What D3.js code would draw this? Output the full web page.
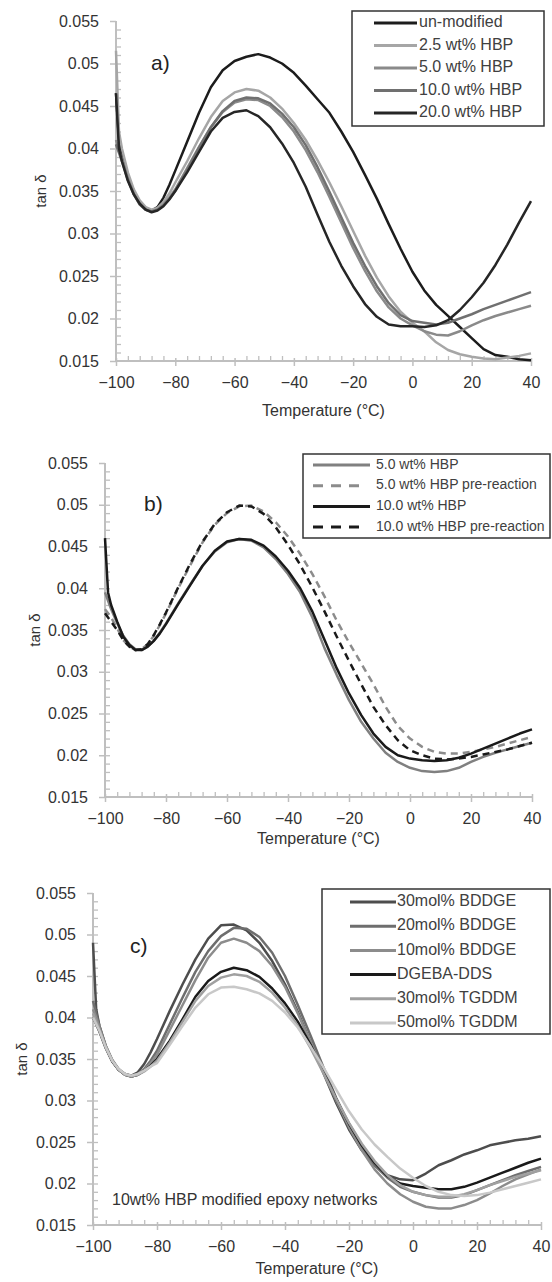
<!DOCTYPE html>
<html><head><meta charset="utf-8">
<script src="https://cdn.jsdelivr.net/npm/d3@7"></script>
<style>
body{margin:0;background:#fff}
svg{display:block}
text{font-family:"Liberation Sans",Arial,sans-serif}
</style>
</head><body>
<svg id="chart" width="552" height="1282"></svg>
<script>
// ---------- DATA ----------
const temps = [-100,-99,-98,-96,-94,-92,-90,-88,-86,-84,-82,-80,-76,-72,-68,-64,-60,-56,-52,-48,-44,-40,-36,-32,-28,-24,-20,-16,-12,-8,-4,0,4,8,12,16,20,24,28,32,36,40];
const xTicks = [-100,-80,-60,-40,-20,0,20,40];
const yTicks = [0.015,0.02,0.025,0.03,0.035,0.04,0.045,0.05,0.055];
const yTickLabels = ["0.015","0.02","0.025","0.03","0.035","0.04","0.045","0.05","0.055"];

// panel a
const aNames = ["un-modified","2.5 wt% HBP","5.0 wt% HBP","10.0 wt% HBP","20.0 wt% HBP"];
const aUnmod = [0.0465,0.0410,0.0392,0.0368,0.0350,0.0337,0.0330,0.0327,0.0331,0.0342,0.0357,0.0374,0.0408,0.0442,0.0472,0.0492,0.0503,0.0508,0.0511,0.0507,0.0500,0.0489,0.0474,0.0458,0.0442,0.0420,0.0396,0.0369,0.0341,0.0311,0.0282,0.0255,0.0233,0.0216,0.0203,0.0190,0.0177,0.0164,0.0157,0.0155,0.0152,0.0151];
const a25 = [0.0515,0.0420,0.0400,0.0372,0.0352,0.0339,0.0331,0.0328,0.0330,0.0337,0.0347,0.0360,0.0385,0.0412,0.0437,0.0456,0.0466,0.0470,0.0468,0.0460,0.0447,0.0430,0.0410,0.0386,0.0360,0.0332,0.0303,0.0274,0.0248,0.0226,0.0208,0.0195,0.0185,0.0172,0.0163,0.0158,0.0155,0.0153,0.0152,0.0154,0.0156,0.0159];
const a5 = [0.0410,0.0398,0.0388,0.0365,0.0347,0.0335,0.0328,0.0326,0.0328,0.0334,0.0342,0.0352,0.0377,0.0402,0.0425,0.0443,0.0454,0.0458,0.0457,0.0450,0.0437,0.0420,0.0398,0.0372,0.0343,0.0313,0.0283,0.0256,0.0232,0.0213,0.0200,0.0192,0.0185,0.0181,0.0180,0.0185,0.0192,0.0198,0.0203,0.0207,0.0211,0.0215];
const a10 = [0.0405,0.0395,0.0385,0.0363,0.0346,0.0334,0.0328,0.0326,0.0328,0.0333,0.0341,0.0350,0.0375,0.0401,0.0425,0.0444,0.0456,0.0460,0.0459,0.0453,0.0441,0.0425,0.0404,0.0378,0.0349,0.0319,0.0289,0.0262,0.0238,0.0218,0.0204,0.0197,0.0195,0.0193,0.0195,0.0200,0.0205,0.0211,0.0216,0.0221,0.0226,0.0231];
const a20 = [0.0465,0.0400,0.0385,0.0362,0.0346,0.0335,0.0328,0.0325,0.0327,0.0332,0.0340,0.0350,0.0372,0.0396,0.0420,0.0436,0.0443,0.0445,0.0438,0.0425,0.0406,0.0383,0.0355,0.0322,0.0290,0.0262,0.0238,0.0217,0.0202,0.0193,0.0191,0.0191,0.0190,0.0192,0.0198,0.0210,0.0225,0.0242,0.0263,0.0287,0.0313,0.0338];

// panel b
const bNames = ["5.0 wt% HBP","5.0 wt% HBP pre-reaction","10.0 wt% HBP","10.0 wt% HBP pre-reaction"];
const b5 = [0.0395,0.0385,0.0375,0.0358,0.0343,0.0333,0.0327,0.0326,0.0330,0.0337,0.0347,0.0358,0.0382,0.0405,0.0427,0.0444,0.0455,0.0459,0.0457,0.0449,0.0435,0.0417,0.0395,0.0365,0.0328,0.0296,0.0266,0.0240,0.0220,0.0203,0.0192,0.0185,0.0181,0.0180,0.0181,0.0185,0.0192,0.0198,0.0203,0.0207,0.0211,0.0215];
const b5pre = [0.0375,0.0370,0.0365,0.0352,0.0338,0.0330,0.0326,0.0327,0.0333,0.0343,0.0356,0.0370,0.0400,0.0428,0.0455,0.0476,0.0490,0.0498,0.0499,0.0492,0.0479,0.0462,0.0441,0.0417,0.0390,0.0361,0.0335,0.0310,0.0285,0.0258,0.0235,0.0220,0.0210,0.0204,0.0202,0.0202,0.0204,0.0207,0.0210,0.0214,0.0218,0.0222];
const b10 = [0.0460,0.0395,0.0380,0.0360,0.0342,0.0332,0.0326,0.0326,0.0330,0.0337,0.0346,0.0357,0.0381,0.0404,0.0427,0.0445,0.0456,0.0459,0.0458,0.0451,0.0438,0.0421,0.0400,0.0372,0.0338,0.0304,0.0274,0.0248,0.0226,0.0210,0.0200,0.0196,0.0194,0.0193,0.0194,0.0197,0.0202,0.0208,0.0214,0.0220,0.0226,0.0231];
const b10pre = [0.0370,0.0365,0.0360,0.0350,0.0338,0.0330,0.0326,0.0327,0.0333,0.0344,0.0357,0.0371,0.0401,0.0430,0.0456,0.0477,0.0491,0.0499,0.0498,0.0489,0.0473,0.0452,0.0428,0.0401,0.0372,0.0342,0.0313,0.0285,0.0258,0.0236,0.0218,0.0206,0.0200,0.0196,0.0195,0.0196,0.0198,0.0201,0.0204,0.0207,0.0211,0.0215];

// panel c
const cNames = ["30mol% BDDGE","20mol% BDDGE","10mol% BDDGE","DGEBA-DDS","30mol% TGDDM","50mol% TGDDM"];
const c30B = [0.0490,0.0410,0.0390,0.0365,0.0348,0.0337,0.0332,0.0330,0.0334,0.0344,0.0358,0.0374,0.0408,0.0440,0.0470,0.0495,0.0511,0.0512,0.0505,0.0490,0.0468,0.0440,0.0407,0.0370,0.0333,0.0297,0.0265,0.0240,0.0222,0.0210,0.0205,0.0204,0.0212,0.0222,0.0228,0.0235,0.0240,0.0246,0.0249,0.0252,0.0254,0.0257];
const c20B = [0.0420,0.0405,0.0390,0.0366,0.0349,0.0338,0.0332,0.0330,0.0332,0.0338,0.0348,0.0360,0.0392,0.0424,0.0455,0.0480,0.0498,0.0508,0.0507,0.0497,0.0478,0.0450,0.0415,0.0378,0.0340,0.0303,0.0270,0.0243,0.0222,0.0207,0.0196,0.0190,0.0186,0.0183,0.0183,0.0186,0.0192,0.0198,0.0204,0.0210,0.0215,0.0220];
const c10B = [0.0410,0.0400,0.0388,0.0365,0.0348,0.0337,0.0331,0.0329,0.0331,0.0337,0.0345,0.0355,0.0385,0.0415,0.0445,0.0472,0.0490,0.0495,0.0490,0.0480,0.0462,0.0437,0.0405,0.0370,0.0335,0.0300,0.0268,0.0240,0.0217,0.0200,0.0187,0.0178,0.0172,0.0170,0.0170,0.0174,0.0180,0.0188,0.0197,0.0205,0.0211,0.0217];
const cDGEBA = [0.0400,0.0392,0.0383,0.0363,0.0347,0.0337,0.0331,0.0329,0.0331,0.0336,0.0342,0.0350,0.0372,0.0398,0.0425,0.0444,0.0455,0.0460,0.0457,0.0449,0.0435,0.0417,0.0395,0.0367,0.0335,0.0302,0.0272,0.0246,0.0225,0.0209,0.0200,0.0197,0.0195,0.0193,0.0193,0.0196,0.0201,0.0207,0.0213,0.0219,0.0225,0.0230];
const c30T = [0.0405,0.0395,0.0385,0.0364,0.0348,0.0337,0.0331,0.0329,0.0331,0.0335,0.0341,0.0348,0.0370,0.0395,0.0420,0.0438,0.0448,0.0452,0.0450,0.0443,0.0430,0.0412,0.0390,0.0363,0.0333,0.0302,0.0273,0.0248,0.0227,0.0210,0.0198,0.0190,0.0186,0.0184,0.0184,0.0187,0.0192,0.0198,0.0203,0.0208,0.0212,0.0216];
const c50T = [0.0400,0.0392,0.0384,0.0364,0.0348,0.0338,0.0332,0.0330,0.0332,0.0336,0.0341,0.0345,0.0367,0.0390,0.0412,0.0428,0.0436,0.0437,0.0434,0.0429,0.0420,0.0406,0.0388,0.0365,0.0340,0.0313,0.0287,0.0265,0.0247,0.0232,0.0218,0.0207,0.0197,0.0190,0.0186,0.0185,0.0186,0.0189,0.0193,0.0197,0.0201,0.0205];

// ---------- DRAWING ----------
const svg = d3.select("#chart");
const AXIS = "#bfbfbf", TXT = "#333333";

function drawPanel(cfg){
  const g = svg.append("g");
  const x = d3.scaleLinear().domain([-100,40]).range([cfg.x0, cfg.x1]);
  const y = d3.scaleLinear().domain([0.015,0.055]).range([cfg.yb, cfg.yt]);

  // minor y ticks (inside)
  g.append("g").attr("transform",`translate(${cfg.x0},0)`)
    .call(d3.axisLeft(y).tickValues(d3.range(16,55).map(v=>v/1000)).tickSize(-5).tickFormat(""))
    .call(s=>{s.select(".domain").remove(); s.selectAll("line").attr("stroke",AXIS).attr("stroke-width",1.3);});
  // minor x ticks (inside)
  g.append("g").attr("transform",`translate(0,${cfg.yb})`)
    .call(d3.axisBottom(x).tickValues(d3.range(-96,40,4).filter(v=>v%20!==0)).tickSize(-5).tickFormat(""))
    .call(s=>{s.select(".domain").remove(); s.selectAll("line").attr("stroke",AXIS).attr("stroke-width",1.3);});

  // major y axis
  g.append("g").attr("transform",`translate(${cfg.x0},0)`)
    .call(d3.axisLeft(y).tickValues(yTicks).tickSize(6).tickPadding(11).tickFormat((d,i)=>yTickLabels[i]))
    .call(s=>{
      s.select(".domain").attr("stroke",AXIS).attr("stroke-width",2).attr("d",`M0,${cfg.yt}V${cfg.yb}`);
      s.selectAll(".tick line").attr("stroke",AXIS).attr("stroke-width",1.5);
      s.selectAll("text").attr("fill",TXT).style("font-size","16px");
    });
  // major x axis
  g.append("g").attr("transform",`translate(0,${cfg.yb})`)
    .call(d3.axisBottom(x).tickValues(xTicks).tickSize(5).tickPadding(11))
    .call(s=>{
      s.select(".domain").attr("stroke",AXIS).attr("stroke-width",2).attr("d",`M${cfg.x0},0H${cfg.x1}`);
      s.selectAll(".tick line").attr("stroke",AXIS).attr("stroke-width",1.5).attr("y1",-3);
      s.selectAll("text").attr("fill",TXT).style("font-size","16px");
    });

  // lines
  const line = d3.line().x((d,i)=>x(temps[i])).y(d=>y(d));
  cfg.series.forEach(s=>{
    g.append("path").datum(s.values).attr("d",line)
      .attr("fill","none").attr("stroke",s.color).attr("stroke-width",2.5)
      .attr("stroke-linejoin","round")
      .attr("stroke-dasharray",s.dash||null);
  });

  // axis titles
  g.append("text").attr("x",(cfg.x0+cfg.x1)/2).attr("y",cfg.xtY).attr("text-anchor","middle")
    .attr("dominant-baseline","middle").attr("fill",TXT).style("font-size","16px").text("Temperature (°C)");
  g.append("text").attr("transform",`translate(${cfg.ytX},${(cfg.yt+cfg.yb)/2}) rotate(-90)`)
    .attr("text-anchor","middle").attr("dominant-baseline","middle").attr("fill",TXT)
    .style("font-size","15px").text("tan δ");

  // panel label
  g.append("text").attr("x",cfg.lab[0]).attr("y",cfg.lab[1]).attr("dominant-baseline","middle")
    .attr("fill","#222").style("font-size","21px").text(cfg.label);

  // legend
  const L = cfg.legend;
  g.append("rect").attr("x",L.x).attr("y",L.y).attr("width",L.w).attr("height",L.h)
    .attr("fill","#fff").attr("stroke","#333").attr("stroke-width",1.5);
  cfg.series.forEach((s,i)=>{
    const yy = L.y0 + i*L.dy;
    g.append("line").attr("x1",L.lx0).attr("x2",s.dash?L.lx1d:L.lx1).attr("y1",yy).attr("y2",yy)
      .attr("stroke",s.color).attr("stroke-width",3).attr("stroke-dasharray",s.dash?L.ldash:null);
    g.append("text").attr("x",L.tx).attr("y",yy).attr("dominant-baseline","middle")
      .attr("fill","#404040").style("font-size",L.fs+"px").text(s.name);
  });
  return {g,x,y};
}

drawPanel({
  x0:116, x1:531, yt:21, yb:361, xtY:412, ytX:42, label:"a)", lab:[151,64],
  series:[
    {name:aNames[0], values:aUnmod, color:"#1c1c1c"},
    {name:aNames[1], values:a25, color:"#a6a6a6"},
    {name:aNames[2], values:a5, color:"#8a8a8a"},
    {name:aNames[3], values:a10, color:"#707070"},
    {name:aNames[4], values:a20, color:"#262626"}
  ],
  legend:{x:352,y:11,w:192,h:115,y0:23,dy:22.5,lx0:374,lx1:417,tx:419,fs:16}
});

drawPanel({
  x0:105, x1:532, yt:463, yb:797, xtY:840, ytX:36, label:"b)", lab:[144,505],
  series:[
    {name:bNames[0], values:b5, color:"#808080"},
    {name:bNames[1], values:b5pre, color:"#8c8c8c", dash:"7,5"},
    {name:bNames[2], values:b10, color:"#1a1a1a"},
    {name:bNames[3], values:b10pre, color:"#1a1a1a", dash:"7,5"}
  ],
  legend:{x:303,y:454,w:247,h:84,y0:465,dy:20.7,lx0:313,lx1:370,lx1d:359,ldash:"10,8",tx:376,fs:14}
});

const pc = drawPanel({
  x0:93, x1:541, yt:893, yb:1225, xtY:1270, ytX:23, label:"c)", lab:[130,947],
  series:[
    {name:cNames[0], values:c30B, color:"#4d4d4d"},
    {name:cNames[1], values:c20B, color:"#6e6e6e"},
    {name:cNames[2], values:c10B, color:"#8c8c8c"},
    {name:cNames[3], values:cDGEBA, color:"#1a1a1a"},
    {name:cNames[4], values:c30T, color:"#a0a0a0"},
    {name:cNames[5], values:c50T, color:"#c8c8c8"}
  ],
  legend:{x:322,y:889,w:228,h:145,y0:902,dy:24.2,lx0:350,lx1:396,tx:397,fs:16}
});
pc.g.append("text").attr("x",112).attr("y",1201).attr("dominant-baseline","middle")
  .attr("fill",TXT).style("font-size","16px").text("10wt% HBP modified epoxy networks");
</script>
</body></html>
